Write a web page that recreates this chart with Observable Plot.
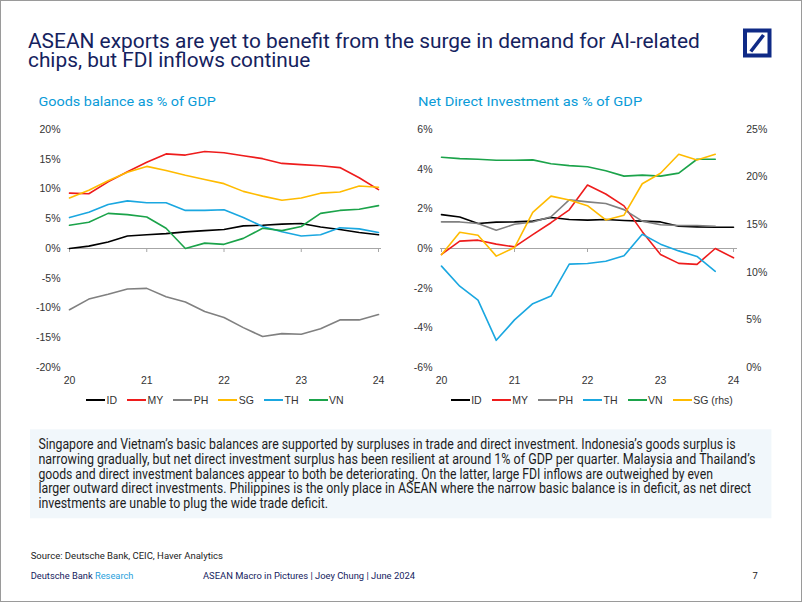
<!DOCTYPE html>
<html>
<head>
<meta charset="utf-8">
<script src="https://cdn.jsdelivr.net/npm/d3@7"></script>
<script src="https://cdn.jsdelivr.net/npm/@observablehq/plot@0.6"></script>
<style>
  html, body { margin: 0; padding: 0; background: #fff; }
  #page { position: relative; width: 802px; height: 602px; overflow: hidden; background: #fff; }
  #border { position: absolute; left: 0; top: 0; width: 802px; height: 602px; box-sizing: border-box; border: 1px solid #9a9a9a; pointer-events: none; }
  .chart { position: absolute; }
  .legend { position: absolute; display: flex; align-items: center; gap: 10px; font-family: "Liberation Sans", Arial, sans-serif; font-size: 10.5px; color: #333; white-space: nowrap; }
  .legend .item { display: flex; align-items: center; }
  .legend .sw { width: 19px; height: 2px; margin-right: 1.5px; }
</style>
</head>
<body>
<div id="page"></div>
<script>
// ---------- data ----------
const quarters = ["20Q1","20Q2","20Q3","20Q4","21Q1","21Q2","21Q3","21Q4","22Q1","22Q2","22Q3","22Q4","23Q1","23Q2","23Q3","23Q4","24Q1"];
const yearTickQuarters = ["20Q1","21Q1","22Q1","23Q1","24Q1"];
const yearTickLabels = ["20","21","22","23","24"];

// Goods balance as % of GDP
const goodsNames = ["ID","MY","PH","SG","TH","VN"];
const goodsColors = ["#000000","#ee1c1c","#808080","#ffbb00","#1aa7e0","#1ba34a"];
const goodsID = [0, 0.4, 1.1, 2.1, 2.3, 2.5, 2.8, 3.0, 3.2, 3.8, 3.9, 4.1, 4.2, 3.6, 3.2, 2.7, 2.3];
const goodsMY = [9.3, 9.2, 11.2, 12.9, 14.5, 15.9, 15.7, 16.3, 16.1, 15.6, 15.1, 14.3, 14.1, 13.9, 13.6, 11.9, 9.9];
const goodsPH = [-10.3, -8.5, -7.7, -6.8, -6.7, -8.1, -9.0, -10.6, -11.6, -13.3, -14.8, -14.3, -14.4, -13.5, -12.0, -12.0, -11.1];
const goodsSG = [8.5, 9.8, 11.4, 12.8, 13.8, 13.1, 12.3, 11.6, 10.9, 9.6, 8.8, 8.1, 8.5, 9.3, 9.5, 10.5, 10.3];
const goodsTH = [5.2, 6.1, 7.4, 8.0, 7.7, 7.7, 6.4, 6.4, 6.5, 5.2, 3.7, 2.8, 2.1, 2.3, 3.5, 3.3, 2.7];
const goodsVN = [3.9, 4.4, 5.9, 5.7, 5.3, 3.4, 0, 0.9, 0.7, 1.7, 3.4, 3.0, 3.7, 5.9, 6.4, 6.6, 7.2];
const goodsTicks = [-20, -15, -10, -5, 0, 5, 10, 15, 20];

// Net direct investment as % of GDP
const fdiNames = ["ID","MY","PH","TH","VN","SG (rhs)"];
const fdiColors = ["#000000","#ee1c1c","#808080","#1aa7e0","#1ba34a","#ffbb00"];
const fdiID = [1.71, 1.59, 1.26, 1.33, 1.34, 1.38, 1.56, 1.46, 1.43, 1.46, 1.41, 1.38, 1.34, 1.12, 1.09, 1.07, 1.07];
const fdiMY = [-0.3, 0.37, 0.42, 0.22, 0.08, 0.7, 1.3, 1.95, 3.2, 2.75, 2.15, 0.85, -0.3, -0.75, -0.8, 0.0, -0.47];
const fdiPH = [1.34, 1.34, 1.26, 0.92, 1.22, 1.34, 1.6, 2.45, 2.35, 2.27, 1.96, 1.38, 1.2, 1.16, 1.16, 1.12];
const fdiTH = [-0.89, -1.9, -2.6, -4.63, -3.6, -2.78, -2.4, -0.79, -0.76, -0.64, -0.37, 0.72, 0.22, -0.12, -0.4, -1.15];
const fdiVN = [4.6, 4.53, 4.5, 4.45, 4.45, 4.47, 4.27, 4.18, 4.12, 3.92, 3.65, 3.7, 3.65, 3.8, 4.5, 4.5];
const fdiSGrhs = [11.85, 14.2, 13.9, 11.7, 12.6, 16.3, 18.0, 17.6, 17.0, 15.5, 16.0, 19.3, 20.4, 22.4, 21.8, 22.4];
const fdiTicks = [-6, -4, -2, 0, 2, 4, 6];
const rhsTicks = [0, 5, 10, 15, 20, 25];

// texts
const titleLines = ["ASEAN exports are yet to benefit from the surge in demand for AI-related", "chips, but FDI inflows continue"];
const leftSubtitle = "Goods balance as % of GDP";
const rightSubtitle = "Net Direct Investment as % of GDP";
const paragraphLines = [
  "Singapore and Vietnam\u2019s basic balances are supported by surpluses in trade and direct investment. Indonesia\u2019s goods surplus is",
  "narrowing gradually, but net direct investment surplus has been resilient at around 1% of GDP per quarter. Malaysia and Thailand\u2019s",
  "goods and direct investment balances appear to both be deteriorating. On the latter, large FDI inflows are outweighed by even",
  "larger outward direct investments. Philippines is the only place in ASEAN where the narrow basic balance is in deficit, as net direct",
  "investments are unable to plug the wide trade deficit."
];
const sourceText = "Source: Deutsche Bank, CEIC, Haver Analytics";
const footerBrand = ["Deutsche Bank ", "Research"];
const footerMiddle = "ASEAN Macro in Pictures | Joey Chung | June 2024";
const pageNumber = "7";

// ---------- build ----------
const page = d3.select("#page");
const NAVY = "#15225e", SKY = "#0a9bd8";

// overlay text
const ov = page.append("svg").attr("width", 802).attr("height", 602)
  .style("position", "absolute").style("left", 0).style("top", 0);

// text placed at a baseline, squeezed horizontally to the reference width
function txt(x, y, s, o) {
  const t = ov.append("text").attr("x", 0).attr("y", 0)
    .attr("font-family", o.family || "Roboto, 'Liberation Sans', sans-serif")
    .attr("font-size", o.size).attr("fill", o.fill || "#222");
  if (Array.isArray(s)) {
    s.forEach((p, i) => t.append("tspan").attr("fill", o.fills[i]).style("white-space", "pre").text(p));
  } else t.text(s);
  let sx = 1;
  if (o.width) sx = o.width / t.node().getComputedTextLength();
  t.attr("transform", `translate(${x},${y}) scale(${sx},1)`);
  return t;
}

txt(28, 47.5, titleLines[0], {size: 21, fill: NAVY, width: 672});
txt(28, 67, titleLines[1], {size: 21, fill: NAVY, width: 282.5});

// logo
ov.append("rect").attr("x", 745).attr("y", 30.5).attr("width", 24.5).attr("height", 25)
  .attr("fill", "none").attr("stroke", "#0f2a86").attr("stroke-width", 4);
ov.append("line").attr("x1", 750.8).attr("y1", 51.5).attr("x2", 763.5).attr("y2", 35)
  .attr("stroke", "#0f2a86").attr("stroke-width", 3.6);

txt(38.4, 106, leftSubtitle, {size: 13.2, fill: SKY, width: 177.6});
txt(418, 106, rightSubtitle, {size: 13.2, fill: SKY, width: 224});

// commentary box
ov.append("rect").attr("x", 30).attr("y", 429.3).attr("width", 741.4).attr("height", 89)
  .attr("fill", "#f1f7fb");
const parWidths = [698, 717.6, 675, 713.6, 290];
paragraphLines.forEach((l, i) => txt(38.4, 449.3 + i * 14.6, l, {size: 14, fill: "#1d1d1d", width: parWidths[i]}));

txt(30.7, 559, sourceText, {size: 9.4, fill: "#222", width: 192});
txt(30.7, 579.3, footerBrand, {size: 9.4, fills: [NAVY, "#2a9fdc"], width: 102.6});
txt(203, 579.3, footerMiddle, {size: 9.4, fill: NAVY, width: 212});
txt(752.5, 579.3, pageNumber, {size: 9.4, fill: "#222"});

// ---------- charts ----------
const tickIdx = yearTickQuarters.map(q => quarters.indexOf(q));
const xFmt = d => yearTickLabels[tickIdx.indexOf(d)];
const tidy = (names, arrays) => names.flatMap((s, k) => arrays[k].map((v, i) => ({q: quarters[i], i, v, s})));
const axisStyle = {background: "transparent", fontFamily: "'Liberation Sans', Arial, sans-serif", fontSize: "10.5px", color: "#333", overflow: "visible"};

const goodsData = tidy(goodsNames, [goodsID, goodsMY, goodsPH, goodsSG, goodsTH, goodsVN]);
const leftChart = Plot.plot({
  width: 400, height: 285,
  marginLeft: 69, marginRight: 22, marginTop: 19, marginBottom: 28,
  style: axisStyle,
  x: {domain: [0, 16]},
  y: {domain: [-20, 20]},
  color: {domain: goodsNames, range: goodsColors},
  marks: [
    Plot.axisX(tickIdx, {anchor: "bottom", tickSize: 0, tickPadding: 9, tickFormat: xFmt, label: null}),
    Plot.axisY(goodsTicks, {anchor: "left", tickSize: 0, tickPadding: 9, tickFormat: d => d + "%", label: null}),
    Plot.ruleY([0], {stroke: "#a6a6a6", insetLeft: -2, insetRight: -3}),
    Plot.ruleX(tickIdx, {x: d => d, y1: 0, y2: 0, insetBottom: -4, stroke: "#a6a6a6"}),
    Plot.lineY(goodsData, {x: "i", y: "v", z: "s", stroke: "s", strokeWidth: 1.6})
  ]
});
leftChart.classList.add("chart");
leftChart.style.left = "0px"; leftChart.style.top = "110px";
page.node().appendChild(leftChart);

const toL = r => -6 + r * 12 / 25;
const fromL = l => (l + 6) * 25 / 12;
const fdiData = tidy(fdiNames, [fdiID, fdiMY, fdiPH, fdiTH, fdiVN, fdiSGrhs.map(toL)]);
const rightChart = Plot.plot({
  width: 402, height: 285,
  marginLeft: 41, marginRight: 69, marginTop: 19, marginBottom: 28,
  style: axisStyle,
  x: {domain: [0, 16]},
  y: {domain: [-6, 6]},
  color: {domain: fdiNames, range: fdiColors},
  marks: [
    Plot.axisX(tickIdx, {anchor: "bottom", tickSize: 0, tickPadding: 9, tickFormat: xFmt, label: null}),
    Plot.axisY(fdiTicks, {anchor: "left", tickSize: 0, tickPadding: 9, tickFormat: d => d + "%", label: null}),
    Plot.axisY(rhsTicks.map(toL), {anchor: "right", tickSize: 0, tickPadding: 12.7, tickFormat: d => Math.round(fromL(d)) + "%", label: null}),
    Plot.ruleY([0], {stroke: "#a6a6a6", insetLeft: -1, insetRight: -4}),
    Plot.ruleX(tickIdx, {x: d => d, y1: 0, y2: 0, insetBottom: -4, stroke: "#a6a6a6"}),
    Plot.lineY(fdiData, {x: "i", y: "v", z: "s", stroke: "s", strokeWidth: 1.6})
  ]
});
rightChart.classList.add("chart");
rightChart.style.left = "400px"; rightChart.style.top = "110px";
page.node().appendChild(rightChart);

// ---------- legends ----------
function legend(names, colors, left) {
  const lg = page.append("div").attr("class", "legend").style("left", left + "px").style("top", "393px").style("height", "14px");
  names.forEach((n, i) => {
    const it = lg.append("div").attr("class", "item");
    it.append("div").attr("class", "sw").style("background", colors[i]);
    it.append("span").text(n);
  });
}
legend(goodsNames, goodsColors, 86);
legend(fdiNames, fdiColors, 450.7);

page.append("div").attr("id", "border");
</script>
</body>
</html>
